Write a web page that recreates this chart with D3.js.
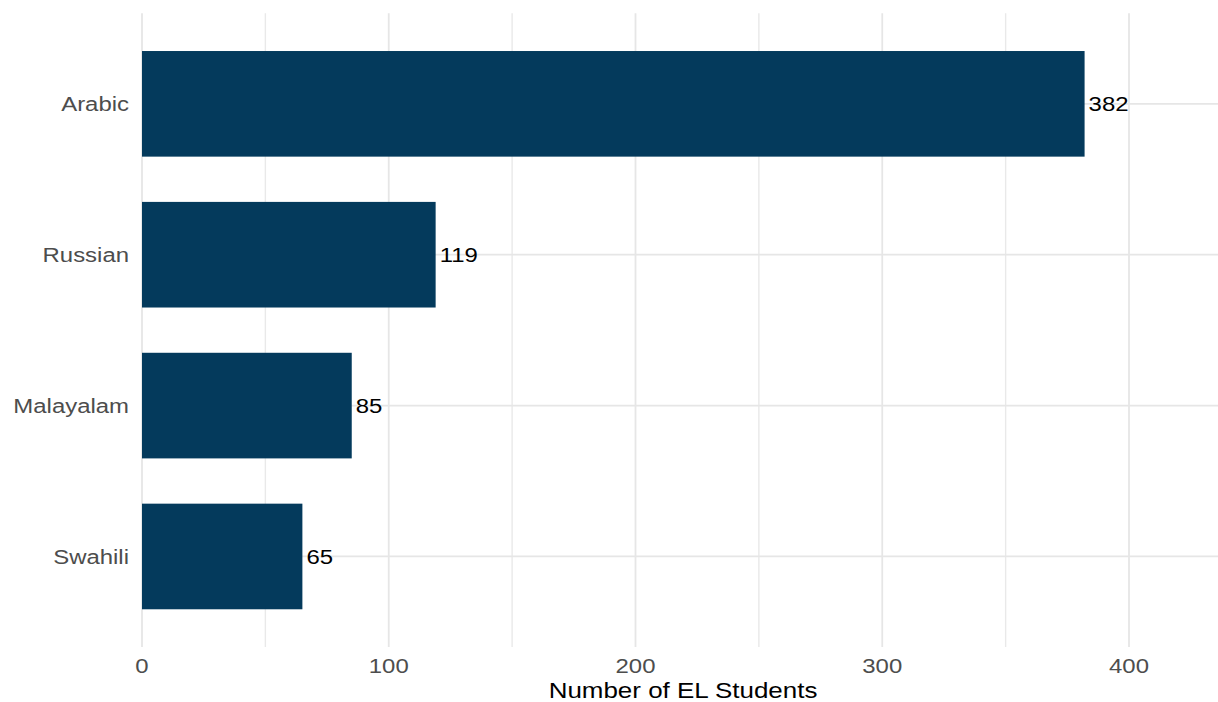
<!DOCTYPE html>
<html>
<head>
<meta charset="utf-8">
<script src="https://cdn.jsdelivr.net/npm/d3@7"></script>
<style>
  html, body { margin: 0; padding: 0; background: #fff; }
  svg { display: block; }
</style>
</head>
<body>
<script>
const languages = ["Arabic", "Russian", "Malayalam", "Swahili"];
const students = [382, 119, 85, 65];
const majorTicks = [0, 100, 200, 300, 400];
const minorTicks = [50, 150, 250, 350];
const xTitle = "Number of EL Students";

const W = 1218, H = 702;
const panel = { left: 142, right: 1218, top: 13.3, bottom: 647 };
const stretch = 1.14;

const svg = d3.select("body").append("svg").attr("width", W).attr("height", H);

const x = d3.scaleLinear().domain([0, 400]).range([142, 1129]);
const y = d3.scalePoint().domain(languages).range([panel.top, panel.bottom]).padding(0.6);
const bh = y.step() * 0.7;

const grid = svg.append("g");
grid.selectAll("line.minor").data(minorTicks).join("line")
  .attr("x1", d => x(d)).attr("x2", d => x(d))
  .attr("y1", panel.top).attr("y2", panel.bottom)
  .attr("stroke", "#e9e9e9").attr("stroke-width", 1.4);
grid.selectAll("line.majorx").data(majorTicks).join("line")
  .attr("x1", d => x(d)).attr("x2", d => x(d))
  .attr("y1", panel.top).attr("y2", panel.bottom)
  .attr("stroke", "#e6e6e6").attr("stroke-width", 1.8);
grid.selectAll("line.majory").data(languages).join("line")
  .attr("x1", panel.left).attr("x2", panel.right)
  .attr("y1", d => y(d)).attr("y2", d => y(d))
  .attr("stroke", "#e6e6e6").attr("stroke-width", 1.8);

svg.append("g").selectAll("rect").data(languages).join("rect")
  .attr("x", x(0))
  .attr("y", d => y(d) - bh / 2)
  .attr("width", (d, i) => x(students[i]) - x(0))
  .attr("height", bh)
  .attr("fill", "#043a5c");

function txt(g, xx, yy, s, anchor, size, fill, sx) {
  g.append("text")
    .attr("transform", `translate(${xx},${yy}) scale(${sx || stretch},1)`)
    .attr("text-anchor", anchor)
    .attr("font-family", "Liberation Sans, Arial, sans-serif")
    .attr("font-size", size)
    .attr("fill", fill)
    .text(s);
}

const labels = svg.append("g");
languages.forEach((d, i) => {
  txt(labels, x(students[i]) + 4, y(d) + 7.5, students[i], "start", 21, "#000");
  txt(labels, 129, y(d) + 7.5, d, "end", 21, "#4d4d4d");
});
majorTicks.forEach(t => txt(labels, x(t), 673, t, "middle", 21, "#4d4d4d"));
txt(labels, (panel.left + panel.right) / 2 + 3, 698, xTitle, "middle", 22, "#000", 1.18);
</script>
</body>
</html>
